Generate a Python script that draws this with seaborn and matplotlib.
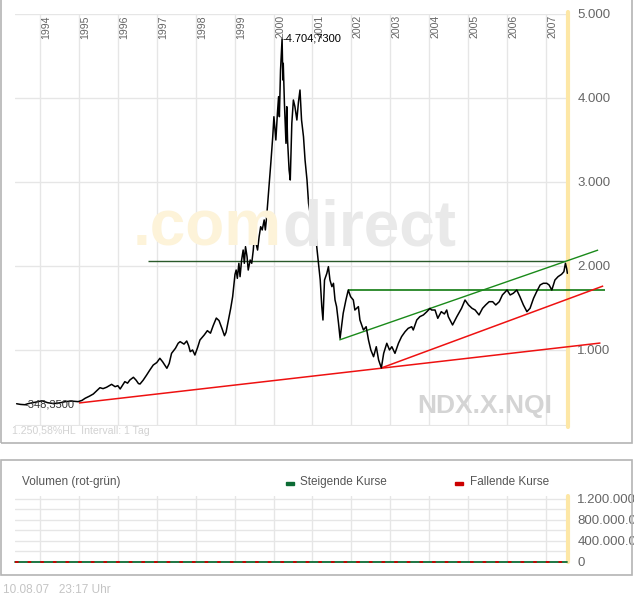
import matplotlib
matplotlib.use('Agg')
import matplotlib.pyplot as plt
import seaborn as sns
import pandas as pd
from matplotlib.patches import Rectangle

sns.set_theme(style='white')
plt.rcParams['font.family'] = ['Liberation Sans', 'DejaVu Sans']

# ---------------- data ----------------
dates = [1993.40, 1993.50, 1993.61, 1993.70, 1993.77, 1993.90, 1994.05, 1994.20, 1994.35, 1994.50,
         1994.65, 1994.80, 1994.98, 1995.08, 1995.16, 1995.27, 1995.37, 1995.46, 1995.54, 1995.62,
         1995.71, 1995.84, 1995.93, 1996.00, 1996.06, 1996.12, 1996.18, 1996.25, 1996.31, 1996.40,
         1996.47, 1996.53, 1996.57, 1996.65, 1996.74, 1996.82, 1996.91, 1997.00, 1997.08, 1997.15,
         1997.26, 1997.32, 1997.38, 1997.48, 1997.55, 1997.60, 1997.70, 1997.77, 1997.82, 1997.86,
         1997.92, 1997.98, 1998.05, 1998.11, 1998.22, 1998.30, 1998.38, 1998.45, 1998.53, 1998.60,
         1998.68, 1998.74, 1998.78, 1998.85, 1998.90, 1998.95, 1999.01, 1999.04, 1999.07, 1999.11,
         1999.14, 1999.18, 1999.22, 1999.25, 1999.28, 1999.32, 1999.35, 1999.40, 1999.44, 1999.48,
         1999.52, 1999.55, 1999.59, 1999.63, 1999.67, 1999.71, 1999.76, 1999.79, 1999.82, 1999.87,
         1999.93, 1999.98, 2000.01, 2000.06, 2000.10, 2000.13, 2000.15, 2000.18, 2000.22, 2000.24,
         2000.25, 2000.28, 2000.30, 2000.32, 2000.34, 2000.36, 2000.40, 2000.43, 2000.47, 2000.51,
         2000.55, 2000.60, 2000.64, 2000.68, 2000.72, 2000.77, 2000.81, 2000.86, 2000.90, 2000.94,
         2000.98, 2001.03, 2001.07, 2001.11, 2001.15, 2001.20, 2001.24, 2001.27, 2001.31, 2001.37,
         2001.41, 2001.45, 2001.50, 2001.54, 2001.58, 2001.62, 2001.67, 2001.71, 2001.79, 2001.86,
         2001.92, 2001.98, 2002.05, 2002.09, 2002.18, 2002.22, 2002.31, 2002.38, 2002.44, 2002.50,
         2002.57, 2002.64, 2002.70, 2002.77, 2002.83, 2002.91, 2002.98, 2003.04, 2003.12, 2003.21,
         2003.29, 2003.38, 2003.46, 2003.55, 2003.59, 2003.68, 2003.76, 2003.85, 2003.94, 2004.02,
         2004.06, 2004.15, 2004.22, 2004.31, 2004.39, 2004.45, 2004.49, 2004.60, 2004.71, 2004.83,
         2004.92, 2005.01, 2005.10, 2005.18, 2005.28, 2005.37, 2005.45, 2005.54, 2005.63, 2005.71,
         2005.80, 2005.88, 2006.00, 2006.08, 2006.16, 2006.25, 2006.33, 2006.42, 2006.51, 2006.59,
         2006.68, 2006.76, 2006.85, 2006.93, 2007.02, 2007.08, 2007.15, 2007.23, 2007.31, 2007.40,
         2007.46, 2007.50, 2007.53, 2007.55]
prices = [360, 352, 348.35, 362, 368, 380, 395, 372, 362, 370,
          385, 392, 385, 400, 425, 450, 476, 515, 551, 540,
          556, 591, 563, 575, 536, 580, 623, 605, 643, 675,
          640, 600, 595, 640, 702, 760, 821, 850, 901, 860,
          782, 840, 960, 1020, 1080, 1099, 1070, 1107, 1050, 980,
          1000, 940, 1030, 1119, 1179, 1230, 1200, 1290, 1380, 1350,
          1250, 1170, 1210, 1380, 1496, 1635, 1900, 1952, 1853, 2032,
          1873, 2071, 2190, 2032, 2230, 2111, 1952, 2071, 2032, 2190,
          2429, 2270, 2190, 2349, 2468, 2429, 2548, 2429, 2568, 2865,
          3222, 3539, 3777, 3500, 3818, 4016, 3777, 4333, 4704.73, 4214,
          4413, 3937, 3698, 3460, 3897, 3500, 3143, 3024, 3698, 3976,
          3897, 3738, 3950, 4095, 3738, 3539, 3262, 3024, 2746, 2627,
          2468, 2310, 2548, 2230, 2052, 1833, 1516, 1357, 1833, 1913,
          1992, 1833, 1754, 1794, 1595, 1516, 1318, 1139, 1437, 1595,
          1714, 1635, 1595, 1476, 1516, 1357, 1238, 1277, 1119, 1000,
          920, 1039, 881, 786, 960, 1080, 1000, 1039, 960, 1080,
          1159, 1218, 1258, 1277, 1238, 1357, 1397, 1417, 1456, 1496,
          1476, 1476, 1377, 1456, 1429, 1476, 1397, 1298, 1397, 1496,
          1595, 1536, 1496, 1476, 1417, 1496, 1536, 1575, 1575, 1536,
          1575, 1655, 1714, 1655, 1675, 1714, 1635, 1536, 1456, 1496,
          1615, 1694, 1774, 1794, 1794, 1774, 1714, 1833, 1873, 1901,
          1932, 2032, 1972, 1913]

years = list(range(1994, 2008))
price_ticks = [1000, 2000, 3000, 4000, 5000]
price_tick_labels = ['1.000', '2.000', '3.000', '4.000', '5.000']

peak_date, peak_value, peak_label = 2000.22, 4704.73, '-4.704,7300'
low_date, low_value, low_label = 1993.61, 348.35, '-348,3500'

# trend lines: (x_start, y_start, x_end, y_end)
resist_top = (1996.78, 2060, 2007.49, 2060)
resist_mid = (2001.92, 1714, 2008.52, 1714)
channel_up = (2001.69, 1119, 2008.34, 2190)
support_short = (2002.77, 786, 2008.47, 1762)
support_long = (1995.00, 369, 2008.40, 1083)

vol_dates = [1993.36, 2007.55]
vol_rising = [0, 0]
vol_falling = [0, 0]
vol_ticks = [0, 200000, 400000, 600000, 800000, 1000000, 1200000]
vol_tick_labels = ['0', '', '400.000.000', '', '800.000.000', '', '1.200.000.000']

# ---------------- layout helpers ----------------
W, H = 634, 597
def fx(x):
    return x / W
def fy(y):
    return 1 - y / H

GRID = '#e6e6e6'
XMIN, XMAX = 1993.358, 2007.558

fig = plt.figure(figsize=(W / 100, H / 100), dpi=100)
fig.patch.set_facecolor('white')

# frames
fig.add_artist(Rectangle((fx(1), fy(443)), fx(632) - fx(1), fy(-5) - fy(443),
                         transform=fig.transFigure, fill=False, edgecolor='#b4b4b4', lw=1.2))
fig.add_artist(Rectangle((fx(1), fy(575)), fx(632) - fx(1), fy(460) - fy(575),
                         transform=fig.transFigure, fill=False, edgecolor='#b4b4b4', lw=1.2))

# watermark
fig.text(fx(282), fy(245), '.com', color='#fdf3d9', fontsize=46, fontweight='bold',
         ha='right', va='baseline', zorder=0)
fig.text(fx(282), fy(245), 'direct', color='#e9e9e9', fontsize=46, fontweight='bold',
         ha='left', va='baseline', zorder=0)

# ---------------- main price axes ----------------
ax = fig.add_axes([fx(15), fy(426), fx(567.7) - fx(15), fy(14) - fy(426)])
ax.patch.set_alpha(0)
ax.set_xlim(XMIN, XMAX)
ax.set_ylim(95, 5000)
for s in ax.spines.values():
    s.set_visible(False)

for yv in price_ticks:
    ax.axhline(yv, color=GRID, lw=1, zorder=0)
ax.axhline(95, color=GRID, lw=1.5, zorder=0)
for yr in years:
    ax.axvline(yr, color=GRID, lw=1, zorder=0)

ax.axvline(XMAX, ymin=-0.002, ymax=1.006, color='#fde7a6', lw=3, clip_on=False, zorder=1)

df = pd.DataFrame({'date': dates, 'price': prices})
sns.lineplot(data=df, x='date', y='price', ax=ax, color='black', lw=1.1,
             estimator=None, sort=False, zorder=4)

def seg(line, color, lw):
    ax.plot([line[0], line[2]], [line[1], line[3]], color=color, lw=lw,
            clip_on=False, zorder=3, solid_capstyle='butt')

seg(resist_top, '#2a5a2a', 1.0)
seg(resist_mid, '#107a10', 1.2)
seg(channel_up, '#1a8a1a', 1.0)
seg(support_short, '#ee1111', 1.1)
seg(support_long, '#ee1111', 1.1)

ax.yaxis.tick_right()
ax.set_yticks(price_ticks)
ax.set_yticklabels(price_tick_labels)
ax.tick_params(axis='y', length=0, pad=7, labelsize=9.5, labelcolor='#666666')
ax.set_xticks([])
ax.set_xlabel('')
ax.set_ylabel('')

for yr in years:
    ax.text(yr + 1.6 / 38.92, 4988, str(yr), rotation=90, ha='left', va='top',
            fontsize=7.6, color='#666666', zorder=5)

ax.text(peak_date, peak_value, peak_label, ha='left', va='center', fontsize=8,
        color='black', zorder=6)
ax.text(low_date, low_value, low_label, ha='left', va='center', fontsize=8,
        color='#333333', zorder=6)

fig.text(fx(417), fy(413), 'NDX.X.NQI', color='#d4d4d4', fontsize=19, fontweight='bold',
         ha='left', va='baseline')
fig.text(fx(12.5), fy(431), '1.250,58%HL  Intervall: 1 Tag', color='#d2d2d2', fontsize=7.6,
         ha='left', va='center')

# ---------------- volume axes ----------------
ax2 = fig.add_axes([fx(15), fy(562), fx(567.7) - fx(15), fy(496) - fy(562)])
ax2.patch.set_alpha(0)
ax2.set_xlim(XMIN, XMAX)
ax2.set_ylim(0, 1257000)
for s in ax2.spines.values():
    s.set_visible(False)
for v in vol_ticks:
    ax2.axhline(v, color=GRID, lw=1, zorder=0)
for yr in years:
    ax2.axvline(yr, color=GRID, lw=1, zorder=0)
ax2.axvline(XMAX, ymin=0, ymax=1, color='#fde7a6', lw=3, clip_on=False, zorder=1)

vdf = pd.DataFrame({'date': vol_dates, 'up': vol_rising, 'down': vol_falling})
sns.lineplot(data=vdf, x='date', y='up', ax=ax2, color='#0b6b34', lw=1.3,
             estimator=None, zorder=3, clip_on=False)
sns.lineplot(data=vdf, x='date', y='down', ax=ax2, color='#cc0000', lw=1.3,
             estimator=None, zorder=4, clip_on=False)
ax2.lines[-1].set_dashes([2, 5])

ax2.yaxis.tick_right()
ax2.set_yticks(vol_ticks)
ax2.set_yticklabels(vol_tick_labels)
ax2.tick_params(axis='y', length=0, pad=7, labelsize=9.5, labelcolor='#666666')
ax2.set_xticks([])
ax2.set_xlabel('')
ax2.set_ylabel('')

fig.text(fx(22), fy(482), 'Volumen (rot-grün)', color='#555555', fontsize=8.5,
         ha='left', va='center')
fig.add_artist(Rectangle((fx(286), fy(485)), fx(8), 3 / H, transform=fig.transFigure,
                         color='#0b6b34'))
fig.text(fx(300), fy(482), 'Steigende Kurse', color='#555555', fontsize=8.5,
         ha='left', va='center')
fig.add_artist(Rectangle((fx(455), fy(485)), fx(8), 3 / H, transform=fig.transFigure,
                         color='#cc0000'))
fig.text(fx(470), fy(482), 'Fallende Kurse', color='#555555', fontsize=8.5,
         ha='left', va='center')

fig.text(fx(3), fy(590), '10.08.07   23:17 Uhr', color='#c4c4c4', fontsize=8.5,
         ha='left', va='center')

fig.savefig('out.png', dpi=100)
